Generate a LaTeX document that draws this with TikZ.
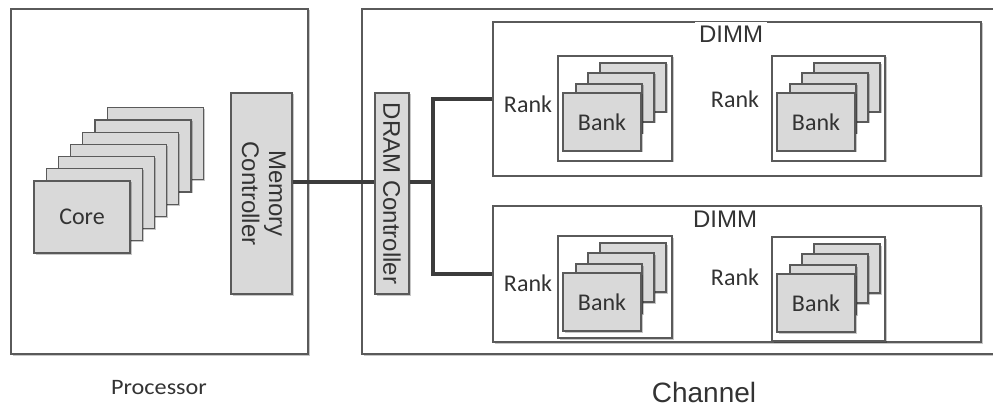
\documentclass[tikz,border=0pt]{standalone}
\usepackage{fontspec}
\setmainfont{Liberation Sans}
\newfontfamily\calfont{Carlito}
\usetikzlibrary{shadows}
\definecolor{boxfill}{HTML}{D9D9D9}
\definecolor{edge}{HTML}{5A5A5A}
\definecolor{busc}{HTML}{3C3C3C}
\definecolor{txt}{HTML}{333333}
\tikzset{
  shd/.style={drop shadow={shadow xshift=1.5pt,shadow yshift=-1.5pt,opacity=0.22,fill=black}},
  outerbox/.style={draw=edge,line width=1.3pt,fill=white,inner sep=0pt,shd},
  whitebox/.style={draw=edge,line width=1.2pt,fill=white,inner sep=0pt,shd},
  graybox/.style={draw=edge,line width=1.2pt,fill=boxfill,inner sep=0pt,shd,text=txt},
  bus/.style={draw=busc,line width=3.5pt},
  caltext/.style={font=\calfont\fontsize{24}{28}\selectfont,text=txt,inner sep=0pt},
  aritext/.style={font=\fontsize{24}{29}\selectfont,text=txt,inner sep=0pt},
}
% \boxat{style}{name}{x1}{y1}{x2}{y2}{text}
\newcommand\boxat[7]{%
  \node[#1,minimum width={((#5)-(#3))*1pt},minimum height={((#6)-(#4))*1pt}] (#2) at ({((#3)+(#5))/2},{((#4)+(#6))/2}) {#7};}
% \bankstack{prefix}{rx}{ry}
\newcommand\bankstack[3]{%
  \boxat{graybox}{#1b3}{#2+42}{#3+7}{#2+108}{#3+56}{}
  \boxat{graybox}{#1b2}{#2+30}{#3+17}{#2+96}{#3+66}{}
  \boxat{graybox}{#1b1}{#2+18}{#3+28}{#2+84}{#3+77}{}
  \boxat{graybox,caltext}{#1bank}{#2+5}{#3+37}{#2+83}{#3+95}{Bank}}
\begin{document}
\begin{tikzpicture}[x=1pt,y=-1pt]
\useasboundingbox (0,0) rectangle (993,406);
\clip (0,0) rectangle (993,406);
% outer boxes
\boxat{outerbox}{proc}{11}{9}{308}{354}{}
\boxat{outerbox}{chan}{362}{9}{1002}{354}{}
% cores
\foreach \k in {6,5,...,1}{
  \boxat{graybox}{core\k}{34+12.2*\k}{181-12.2*\k}{130+12.2*\k}{253-12.2*\k}{}
}
\boxat{graybox,caltext}{core0}{34}{181}{130}{253}{Core}
% controllers
\boxat{graybox,aritext}{mc}{231}{93}{292}{294}{\rotatebox{-90}{\begin{tabular}{@{}c@{}}Memory\\[-2pt]Controller\end{tabular}}}
\boxat{graybox,aritext}{dram}{375}{93}{409}{294}{\rotatebox{-90}{DRAM Controller}}
% DIMMs
\boxat{whitebox}{dimm1}{493}{22}{981}{176}{}
\boxat{whitebox}{dimm2}{493}{206}{981}{342}{}
\node[aritext,fill=white,inner xsep=4pt,inner ysep=4pt] (dimmlabel1) at (731,34) {DIMM};
\node[aritext,fill=white,inner xsep=4pt,inner ysep=4pt] (dimmlabel2) at (725,219) {DIMM};
% ranks
\boxat{whitebox}{rank1}{558}{56}{672}{161}{}
\boxat{whitebox}{rank2}{772}{56}{885}{161}{}
\boxat{whitebox}{rank3}{558}{236}{672}{338}{}
\boxat{whitebox}{rank4}{772}{237}{885}{341}{}
\bankstack{ra}{558}{56}
\bankstack{rb}{772}{56}
\bankstack{rc}{558}{236}
\bankstack{rd}{772}{237}
\node[caltext] (ranklabel1) at (528,104) {Rank};
\node[caltext] (ranklabel2) at (735,99) {Rank};
\node[caltext] (ranklabel3) at (528,283) {Rank};
\node[caltext] (ranklabel4) at (735,277) {Rank};
% buses
\coordinate (busx) at (433,182);
\draw[bus] (mc.east |- busx) -- (dram.west |- busx);
\draw[bus] (dram.east |- busx) -- (busx);
\draw[bus,line join=miter] (dimm1.west) -| (busx) |- (dimm2.west);
% captions
\node[font=\calfont\fontsize{22}{26}\selectfont,text=txt,inner sep=0pt] (proclabel) at (159,388) {\scalebox{1.1}[1]{Processor}};
\node[font=\fontsize{28}{32}\selectfont,text=txt,inner sep=0pt] (chanlabel) at (704,392) {Channel};
\end{tikzpicture}
\end{document}
